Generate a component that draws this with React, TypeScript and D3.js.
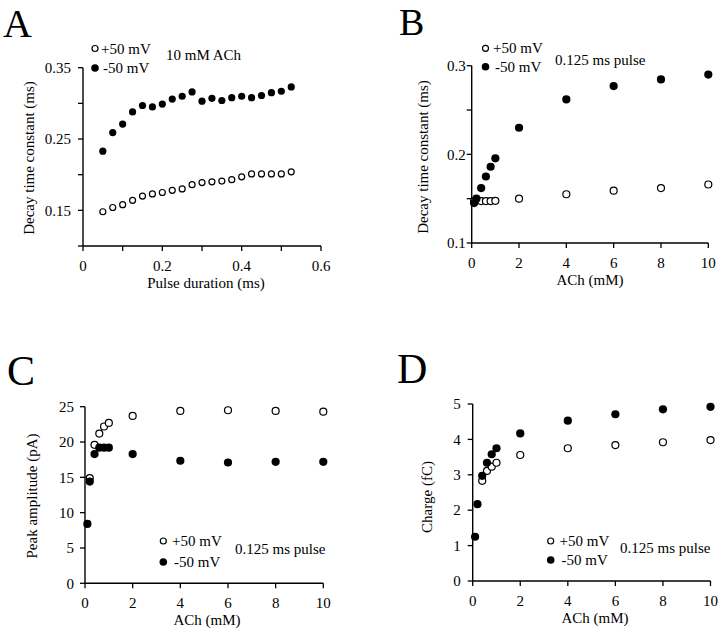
import React from "react";
import * as d3 from "d3";

// ---------- DATA ----------
// Panel A: decay time constant vs pulse duration (10 mM ACh)
const pulseDuration = [0.05, 0.075, 0.1, 0.125, 0.15, 0.175, 0.2, 0.225, 0.25, 0.275, 0.3, 0.325, 0.35, 0.375, 0.4, 0.425, 0.45, 0.475, 0.5, 0.525];
const tauAPos = [0.148, 0.154, 0.158, 0.164, 0.170, 0.173, 0.175, 0.178, 0.180, 0.186, 0.189, 0.190, 0.191, 0.193, 0.197, 0.201, 0.201, 0.201, 0.201, 0.204];
const tauANeg = [0.233, 0.259, 0.271, 0.288, 0.297, 0.295, 0.299, 0.306, 0.310, 0.316, 0.303, 0.307, 0.304, 0.308, 0.310, 0.308, 0.311, 0.315, 0.317, 0.323];

// Panel B: decay time constant vs ACh (0.125 ms pulse)
const achB = [0.1, 0.2, 0.4, 0.6, 0.8, 1, 2, 4, 6, 8, 10];
const tauBPos = [0.147, 0.148, 0.1473, 0.1473, 0.1473, 0.1476, 0.150, 0.155, 0.159, 0.162, 0.166];
const tauBNeg = [0.145, 0.150, 0.162, 0.175, 0.186, 0.1955, 0.230, 0.262, 0.277, 0.2845, 0.290];

// Panel C: peak amplitude vs ACh
const achCPos = [0.2, 0.4, 0.6, 0.8, 1, 2, 4, 6, 8, 10];
const peakCPos = [14.9, 19.6, 21.2, 22.2, 22.7, 23.7, 24.4, 24.5, 24.4, 24.3];
const achCNeg = [0.1, 0.2, 0.4, 0.6, 0.8, 1, 2, 4, 6, 8, 10];
const peakCNeg = [8.4, 14.4, 18.3, 19.2, 19.2, 19.2, 18.3, 17.35, 17.1, 17.2, 17.2];

// Panel D: charge vs ACh
const achDPos = [0.4, 0.6, 0.8, 1, 2, 4, 6, 8, 10];
const chargeDPos = [2.83, 3.11, 3.23, 3.34, 3.56, 3.75, 3.84, 3.92, 3.98];
const achDNeg = [0.1, 0.2, 0.4, 0.6, 0.8, 1, 2, 4, 6, 8, 10];
const chargeDNeg = [1.25, 2.17, 2.97, 3.34, 3.58, 3.75, 4.17, 4.53, 4.71, 4.85, 4.92];

// Tick values
const ticksAX = [0, 0.1, 0.2, 0.3, 0.4, 0.5, 0.6];
const labelsAX = [0, 0.2, 0.4, 0.6];
const ticksAY = [0.1, 0.15, 0.2, 0.25, 0.3, 0.35];
const labelsAY = [0.15, 0.25, 0.35];
const ticksACh = [0, 2, 4, 6, 8, 10];
const ticksBY = [0.1, 0.15, 0.2, 0.25, 0.3];
const labelsBY = [0.1, 0.2, 0.3];
const ticksCY = [0, 5, 10, 15, 20, 25];
const ticksDY = [0, 1, 2, 3, 4, 5];

const legendPos = "+50 mV";
const legendNeg = "-50 mV";

// ---------- LAYOUT ----------
const FONT = "'Liberation Serif', 'Times New Roman', serif";

type Series = { x: number[]; y: number[]; filled: boolean };
type PanelCfg = {
  letter: string; letterX: number; letterY: number; letterSize: number;
  px: [number, number]; py: [number, number];
  xDomain: [number, number]; yDomain: [number, number];
  xTicks: number[]; xLabels: number[]; yTicks: number[]; yLabels: number[];
  fmtX: (v: number) => string; fmtY: (v: number) => string;
  yLabelGap: number;
  xTitle: string; xTitleX: number;
  yTitle: string; yTitleX: number; yTitleY: number;
  series: Series[]; r: number;
  legX: number; legY1: number; legY2: number; legTextX: number;
  note: string; noteX: number; noteY: number;
};

const fmtInt = (v: number) => String(v);
const fmtDec = (v: number) => (v === 0 ? "0" : String(+v.toFixed(2)));

const panels: PanelCfg[] = [
  {
    letter: "A", letterX: 3, letterY: 37, letterSize: 40,
    px: [83, 321], py: [246, 67.7],
    xDomain: [0, 0.6], yDomain: [0.1, 0.35],
    xTicks: ticksAX, xLabels: labelsAX, yTicks: ticksAY, yLabels: labelsAY,
    fmtX: fmtDec, fmtY: fmtDec, yLabelGap: 12,
    xTitle: "Pulse duration (ms)", xTitleX: 206,
    yTitle: "Decay time constant (ms)", yTitleX: 34, yTitleY: 158,
    series: [
      { x: pulseDuration, y: tauAPos, filled: false },
      { x: pulseDuration, y: tauANeg, filled: true },
    ],
    r: 3.6,
    legX: 95, legY1: 48.5, legY2: 68, legTextX: 101,
    note: "10 mM ACh", noteX: 166, noteY: 60,
  },
  {
    letter: "B", letterX: 399, letterY: 35, letterSize: 38,
    px: [471.7, 708.3], py: [243, 65.7],
    xDomain: [0, 10], yDomain: [0.1, 0.3],
    xTicks: ticksACh, xLabels: ticksACh, yTicks: ticksBY, yLabels: labelsBY,
    fmtX: fmtInt, fmtY: fmtDec, yLabelGap: 6,
    xTitle: "ACh (mM)", xTitleX: 590,
    yTitle: "Decay time constant (ms)", yTitleX: 428, yTitleY: 157,
    series: [
      { x: achB, y: tauBPos, filled: false },
      { x: achB, y: tauBNeg, filled: true },
    ],
    r: 4.1,
    legX: 485.5, legY1: 48.3, legY2: 66.7, legTextX: 493,
    note: "0.125 ms pulse", noteX: 555, noteY: 65,
  },
  {
    letter: "C", letterX: 7, letterY: 385, letterSize: 42,
    px: [85, 323.3], py: [583.3, 406.7],
    xDomain: [0, 10], yDomain: [0, 25],
    xTicks: ticksACh, xLabels: ticksACh, yTicks: ticksCY, yLabels: ticksCY,
    fmtX: fmtInt, fmtY: fmtInt, yLabelGap: 11,
    xTitle: "ACh (mM)", xTitleX: 207,
    yTitle: "Peak amplitude (pA)", yTitleX: 37, yTitleY: 496,
    series: [
      { x: achCPos, y: peakCPos, filled: false },
      { x: achCNeg, y: peakCNeg, filled: true },
    ],
    r: 4.1,
    legX: 163.3, legY1: 541, legY2: 562, legTextX: 172,
    note: "0.125 ms pulse", noteX: 235, noteY: 554,
  },
  {
    letter: "D", letterX: 397, letterY: 383, letterSize: 42,
    px: [472.7, 710.5], py: [581, 404],
    xDomain: [0, 10], yDomain: [0, 5],
    xTicks: ticksACh, xLabels: ticksACh, yTicks: ticksDY, yLabels: ticksDY,
    fmtX: fmtInt, fmtY: fmtInt, yLabelGap: 12,
    xTitle: "ACh (mM)", xTitleX: 595,
    yTitle: "Charge (fC)", yTitleX: 432, yTitleY: 497,
    series: [
      { x: achDPos, y: chargeDPos, filled: false },
      { x: achDNeg, y: chargeDNeg, filled: true },
    ],
    r: 4.1,
    legX: 550.7, legY1: 541, legY2: 560, legTextX: 559.5,
    note: "0.125 ms pulse", noteX: 620, noteY: 553,
  },
];

function Marker({ cx, cy, r, filled }: { cx: number; cy: number; r: number; filled: boolean }) {
  return filled ? (
    <circle cx={cx} cy={cy} r={r} fill="#000" />
  ) : (
    <circle cx={cx} cy={cy} r={r - 0.6} fill="#fff" stroke="#000" strokeWidth={1.2} />
  );
}

function Panel({ cfg }: { cfg: PanelCfg }) {
  const x = d3.scaleLinear().domain(cfg.xDomain).range(cfg.px);
  const y = d3.scaleLinear().domain(cfg.yDomain).range(cfg.py);
  const ax = cfg.px[0];
  const ay = cfg.py[0];
  const tick = 5;
  return (
    <g fontFamily={FONT} fill="#000">
      <text x={cfg.letterX} y={cfg.letterY} fontSize={cfg.letterSize}>{cfg.letter}</text>
      {/* axes */}
      <line x1={ax} x2={ax} y1={cfg.py[0]} y2={cfg.py[1]} stroke="#000" strokeWidth={1.4} />
      <line x1={cfg.px[0]} x2={cfg.px[1]} y1={ay} y2={ay} stroke="#000" strokeWidth={1.4} />
      {cfg.xTicks.map((t) => (
        <line key={"xt" + t} x1={x(t)} x2={x(t)} y1={ay} y2={ay + tick} stroke="#000" strokeWidth={1.3} />
      ))}
      {cfg.xLabels.map((t) => (
        <text key={"xl" + t} x={x(t)} y={ay + 25} fontSize={15} textAnchor="middle">{cfg.fmtX(t)}</text>
      ))}
      {cfg.yTicks.map((t) => (
        <line key={"yt" + t} x1={ax - tick} x2={ax} y1={y(t)} y2={y(t)} stroke="#000" strokeWidth={1.3} />
      ))}
      {cfg.yLabels.map((t) => (
        <text key={"yl" + t} x={ax - cfg.yLabelGap} y={y(t)} dy="0.35em" fontSize={15} textAnchor="end">{cfg.fmtY(t)}</text>
      ))}
      <text x={cfg.xTitleX} y={ay + 42} fontSize={15} textAnchor="middle">{cfg.xTitle}</text>
      <text
        transform={`translate(${cfg.yTitleX},${cfg.yTitleY}) rotate(-90)`}
        fontSize={15}
        textAnchor="middle"
      >
        {cfg.yTitle}
      </text>
      {/* data */}
      {cfg.series.map((s, si) => (
        <g key={"s" + si}>
          {s.x.map((xv, i) => (
            <Marker key={i} cx={x(xv)} cy={y(s.y[i])} r={cfg.r} filled={s.filled} />
          ))}
        </g>
      ))}
      {/* legend */}
      <Marker cx={cfg.legX} cy={cfg.legY1} r={3.6} filled={false} />
      <Marker cx={cfg.legX} cy={cfg.legY2} r={3.8} filled={true} />
      <text x={cfg.legTextX} y={cfg.legY1 + 5} fontSize={15}>{legendPos}</text>
      <text x={cfg.legTextX + 2} y={cfg.legY2 + 5} fontSize={15}>{legendNeg}</text>
      <text x={cfg.noteX} y={cfg.noteY} fontSize={15}>{cfg.note}</text>
    </g>
  );
}

export default function App() {
  return (
    <svg
      width={720}
      height={631}
      style={{ position: "absolute", left: 0, top: 0, background: "#fff" }}
    >
      <rect x={0} y={0} width={720} height={631} fill="#fff" />
      {panels.map((p) => (
        <Panel key={p.letter} cfg={p} />
      ))}
    </svg>
  );
}
